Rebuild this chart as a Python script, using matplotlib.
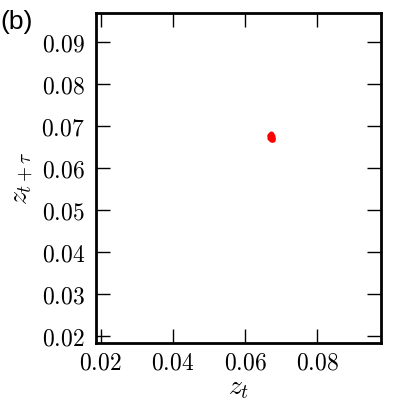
import matplotlib
matplotlib.use('Agg')
import matplotlib.pyplot as plt
import numpy as np

# embedding points z_t vs z_{t+tau} (tight cluster)
z_t = [0.0665, 0.0667, 0.0669, 0.0671, 0.0673, 0.0675, 0.0677, 0.0678,
       0.0666, 0.0668, 0.0670, 0.0672, 0.0674, 0.0676, 0.0677, 0.0669,
       0.0671, 0.0673, 0.0675, 0.0668, 0.0670, 0.0672, 0.0674, 0.0676]
z_tau = [0.0676, 0.0680, 0.0682, 0.0683, 0.0681, 0.0679, 0.0676, 0.0672,
         0.0672, 0.0677, 0.0679, 0.0678, 0.0676, 0.0673, 0.0669, 0.0670,
         0.0668, 0.0667, 0.0670, 0.0674, 0.0673, 0.0671, 0.0672, 0.0667]

xticks = [0.02, 0.04, 0.06, 0.08]
xtick_labels = ['$0.02$', '$0.04$', '$0.06$', '$0.08$']
yticks = [0.02, 0.03, 0.04, 0.05, 0.06, 0.07, 0.08, 0.09]
ytick_labels = ['$0.02$', '$0.03$', '$0.04$', '$0.05$', '$0.06$', '$0.07$', '$0.08$', '$0.09$']

plt.rcParams['mathtext.fontset'] = 'cm'

fig = plt.figure(figsize=(4, 4), dpi=100)
ax = fig.add_axes([0.24, 0.142, 0.7125, 0.826])

ax.plot(z_t, z_tau, linestyle='none', marker='o', markersize=3,
        markeredgewidth=0, color='red')

ax.set_xlim(0.0187, 0.0976)
ax.set_ylim(0.0184, 0.0970)
ax.set_xticks(xticks)
ax.set_xticklabels(xtick_labels)
ax.set_yticks(yticks)
ax.set_yticklabels(ytick_labels)
ax.tick_params(direction='in', length=10, width=1, top=True, right=True,
               labelsize=17)
ax.tick_params(axis='x', pad=5)
ax.tick_params(axis='y', pad=8)
for s in ax.spines.values():
    s.set_linewidth(2)

ax.set_xlabel(r'$z_t$', fontsize=20, labelpad=-1)
ax.set_ylabel(r'$z_{t+\tau}$', fontsize=20, labelpad=4)

fig.text(0.0, 0.975, '(b)', fontsize=19, family='Liberation Sans',
         ha='left', va='top')

fig.savefig('out.png', dpi=100)
